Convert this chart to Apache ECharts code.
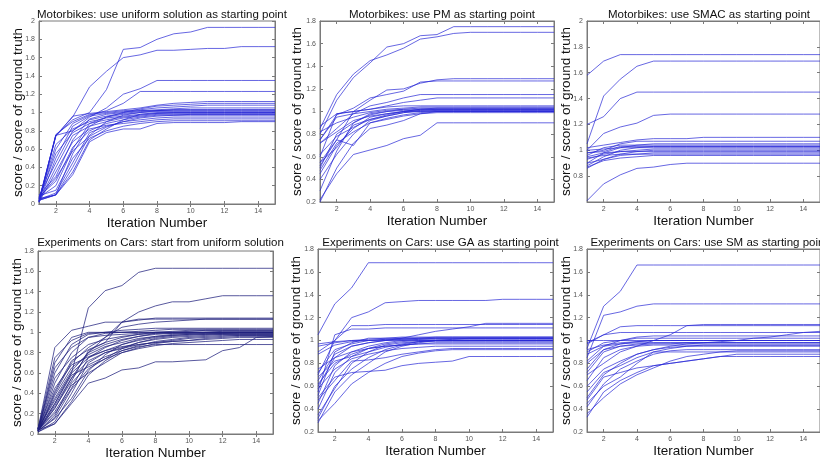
<!DOCTYPE html>
<html>
<head>
<meta charset="utf-8">
<script src="https://cdn.jsdelivr.net/npm/echarts@6/dist/echarts.min.js"></script>
<style>
html,body{margin:0;padding:0;background:#fff;}
#chart{width:820px;height:461px;}
</style>
</head>
<body>
<div id="chart"></div>
<script>
// ---------- DATA ----------
const iterations = [1,2,3,4,5,6,7,8,9,10,11,12,13,14,15];
const xTickValues = [2,4,6,8,10,12,14];
const yTicks0to2 = [0,0.2,0.4,0.6,0.8,1,1.2,1.4,1.6,1.8,2];
const yTicks02to18 = [0.2,0.4,0.6,0.8,1,1.2,1.4,1.6,1.8];
const yTicks08to2 = [0.8,1,1.2,1.4,1.6,1.8,2];
const yTicks0to18 = [0,0.2,0.4,0.6,0.8,1,1.2,1.4,1.6,1.8];

const titles = [
  "Motorbikes: use uniform solution as starting point",
  "Motorbikes: use PM as starting point",
  "Motorbikes: use SMAC as starting point",
  "Experiments on Cars: start from uniform solution",
  "Experiments on Cars: use GA as starting point",
  "Experiments on Cars: use SM as starting point"
];
const xAxisName = "Iteration Number";
const yAxisName = "score / score of ground truth";

const motoUniform = [
  [0.03,0.75,0.92,1.00,1.25,1.69,1.71,1.80,1.86,1.88,1.93,1.93,1.93,1.93,1.93],
  [0.05,0.75,0.95,1.28,1.45,1.60,1.63,1.68,1.68,1.69,1.70,1.70,1.72,1.72,1.72],
  [0.08,0.45,0.80,0.95,1.05,1.20,1.26,1.35,1.35,1.35,1.35,1.35,1.35,1.35,1.35],
  [0.04,0.60,0.88,0.97,1.02,1.10,1.23,1.23,1.23,1.23,1.23,1.23,1.23,1.23,1.23],
  [0.02,0.74,0.96,0.99,1.01,1.03,1.05,1.08,1.10,1.11,1.12,1.12,1.12,1.12,1.12],
  [0.06,0.10,0.55,0.85,0.95,1.00,1.04,1.07,1.08,1.09,1.10,1.10,1.10,1.10,1.10],
  [0.03,0.76,0.90,0.98,1.00,1.02,1.03,1.05,1.06,1.07,1.08,1.08,1.08,1.08,1.08],
  [0.10,0.30,0.70,0.93,0.98,1.00,1.02,1.03,1.04,1.05,1.05,1.05,1.05,1.05,1.05],
  [0.05,0.10,0.40,0.75,0.90,0.97,1.00,1.02,1.03,1.03,1.03,1.03,1.03,1.03,1.03],
  [0.02,0.50,0.85,0.96,0.99,1.01,1.02,1.02,1.02,1.02,1.02,1.02,1.02,1.02,1.02],
  [0.07,0.20,0.60,0.88,0.95,0.98,1.00,1.01,1.01,1.01,1.01,1.01,1.01,1.01,1.01],
  [0.04,0.10,0.35,0.70,0.82,0.92,0.98,1.00,1.00,1.00,1.00,1.00,1.00,1.00,1.00],
  [0.06,0.65,0.82,0.90,0.94,0.96,0.98,0.99,0.99,0.99,0.99,0.99,0.99,0.99,0.99],
  [0.03,0.40,0.75,0.85,0.90,0.94,0.96,0.98,0.98,0.98,0.98,0.98,0.98,0.98,0.98],
  [0.08,0.25,0.62,0.80,0.88,0.92,0.95,0.97,0.97,0.97,0.97,0.97,0.97,0.97,0.97],
  [0.05,0.12,0.45,0.78,0.85,0.90,0.92,0.94,0.95,0.95,0.95,0.95,0.95,0.95,0.95],
  [0.02,0.35,0.68,0.82,0.86,0.88,0.90,0.92,0.93,0.93,0.93,0.93,0.93,0.93,0.93],
  [0.09,0.15,0.50,0.72,0.80,0.85,0.88,0.90,0.91,0.91,0.91,0.91,0.91,0.91,0.91],
  [0.04,0.10,0.32,0.68,0.78,0.82,0.82,0.88,0.89,0.89,0.89,0.89,0.90,0.90,0.90],
  [0.06,0.55,0.78,0.88,0.92,0.95,0.97,0.99,1.00,1.00,1.00,1.00,1.00,1.00,1.00],
  [0.03,0.75,0.80,0.92,0.96,0.99,1.01,1.02,1.03,1.03,1.03,1.03,1.03,1.03,1.03],
  [0.07,0.28,0.58,0.74,0.84,0.90,0.94,0.96,0.97,0.98,0.98,0.98,0.98,0.98,0.98]
];

const motoPM = [
  [0.85,1.15,1.33,1.45,1.50,1.56,1.64,1.66,1.69,1.70,1.70,1.70,1.70,1.70,1.70],
  [0.80,1.10,1.30,1.43,1.57,1.60,1.67,1.68,1.75,1.75,1.75,1.75,1.75,1.75,1.75],
  [0.55,0.75,1.00,1.10,1.19,1.20,1.25,1.28,1.29,1.29,1.29,1.29,1.29,1.29,1.29],
  [0.75,0.97,1.03,1.12,1.15,1.18,1.26,1.27,1.27,1.27,1.27,1.27,1.27,1.27,1.27],
  [0.72,0.85,0.98,1.05,1.08,1.12,1.15,1.15,1.15,1.15,1.15,1.15,1.15,1.15,1.15],
  [0.60,0.98,1.00,1.02,1.05,1.08,1.10,1.12,1.12,1.12,1.12,1.12,1.12,1.12,1.12],
  [0.22,0.45,0.62,0.66,0.70,0.76,0.79,0.90,0.90,0.90,0.90,0.90,0.90,0.90,0.90],
  [0.20,0.50,0.72,0.85,0.88,0.92,0.98,1.00,1.00,1.00,1.00,1.00,1.00,1.00,1.00],
  [0.87,0.98,1.00,1.02,1.04,1.05,1.05,1.05,1.05,1.05,1.05,1.05,1.05,1.05,1.05],
  [0.75,0.95,0.98,1.00,1.02,1.03,1.04,1.04,1.04,1.04,1.04,1.04,1.04,1.04,1.04],
  [0.50,0.80,0.90,0.97,1.00,1.02,1.03,1.03,1.03,1.03,1.03,1.03,1.03,1.03,1.03],
  [0.45,0.70,0.85,0.95,0.98,1.00,1.02,1.02,1.02,1.02,1.02,1.02,1.02,1.02,1.02],
  [0.55,0.68,0.88,0.93,0.96,0.99,1.00,1.01,1.01,1.01,1.01,1.01,1.01,1.01,1.01],
  [0.30,0.65,0.90,0.98,1.00,1.01,1.01,1.01,1.01,1.01,1.01,1.01,1.01,1.01,1.01],
  [0.72,0.82,0.92,0.96,0.98,1.00,1.00,1.00,1.00,1.00,1.00,1.00,1.00,1.00,1.00],
  [0.52,0.75,0.70,0.90,0.94,0.97,0.99,1.00,1.00,1.00,1.00,1.00,1.00,1.00,1.00],
  [0.62,0.78,0.86,0.93,0.97,1.00,1.02,1.03,1.03,1.03,1.03,1.03,1.03,1.03,1.03],
  [0.48,0.72,0.82,0.90,0.93,0.96,0.98,0.99,0.99,0.99,0.99,0.99,0.99,0.99,0.99],
  [0.82,0.90,0.95,0.99,1.01,1.02,1.02,1.02,1.02,1.02,1.02,1.02,1.02,1.02,1.02],
  [0.40,0.62,0.80,0.92,0.96,0.99,1.01,1.02,1.02,1.02,1.02,1.02,1.02,1.02,1.02]
];

const motoSMAC = [
  [1.58,1.69,1.74,1.74,1.74,1.74,1.74,1.74,1.74,1.74,1.74,1.74,1.74,1.74,1.74],
  [1.05,1.42,1.55,1.65,1.69,1.69,1.69,1.69,1.69,1.69,1.69,1.69,1.69,1.69,1.69],
  [1.20,1.26,1.40,1.45,1.45,1.45,1.45,1.45,1.45,1.45,1.45,1.45,1.45,1.45,1.45],
  [1.00,1.13,1.18,1.21,1.27,1.28,1.28,1.28,1.28,1.28,1.28,1.28,1.28,1.28,1.28],
  [0.61,0.74,0.81,0.86,0.87,0.89,0.90,0.90,0.90,0.90,0.90,0.90,0.90,0.90,0.90],
  [1.02,1.04,1.06,1.08,1.09,1.09,1.09,1.10,1.10,1.10,1.10,1.10,1.10,1.10,1.10],
  [0.98,1.00,1.05,1.07,1.07,1.07,1.07,1.07,1.07,1.07,1.07,1.07,1.07,1.07,1.07],
  [0.90,0.98,1.02,1.04,1.05,1.05,1.05,1.05,1.05,1.05,1.05,1.05,1.05,1.05,1.05],
  [0.96,1.02,1.04,1.04,1.04,1.04,1.04,1.04,1.04,1.04,1.04,1.04,1.04,1.04,1.04],
  [0.88,0.95,1.00,1.02,1.03,1.03,1.03,1.03,1.03,1.03,1.03,1.03,1.03,1.03,1.03],
  [1.00,1.01,1.02,1.02,1.02,1.02,1.02,1.02,1.02,1.02,1.02,1.02,1.02,1.02,1.02],
  [0.93,0.97,0.99,1.00,1.01,1.01,1.01,1.01,1.01,1.01,1.01,1.01,1.01,1.01,1.01],
  [0.86,0.93,0.97,0.99,1.00,1.00,1.00,1.00,1.00,1.00,1.00,1.00,1.00,1.00,1.00],
  [0.95,0.98,0.99,0.99,0.99,0.99,0.99,0.99,0.99,0.99,0.99,0.99,0.99,0.99,0.99],
  [0.90,0.93,0.96,0.97,0.98,0.98,0.98,0.98,0.98,0.98,0.98,0.98,0.98,0.98,0.98],
  [0.87,0.92,0.94,0.95,0.96,0.96,0.96,0.96,0.96,0.96,0.96,0.96,0.96,0.96,0.96],
  [0.98,0.99,1.03,1.03,1.03,1.03,1.03,1.03,1.03,1.03,1.03,1.03,1.03,1.03,1.03],
  [0.94,0.96,0.97,0.97,0.97,0.97,0.97,0.97,0.97,0.97,0.97,0.97,0.97,0.97,0.97]
];

const carsUniform = [
  [0.03,0.30,0.60,1.24,1.41,1.46,1.59,1.63,1.63,1.63,1.63,1.63,1.63,1.63,1.63],
  [0.04,0.25,0.55,0.80,0.95,1.10,1.20,1.26,1.30,1.30,1.33,1.36,1.36,1.36,1.36],
  [0.05,0.85,1.02,1.06,1.10,1.10,1.12,1.14,1.14,1.14,1.14,1.14,1.14,1.14,1.14],
  [0.03,0.70,0.95,1.00,1.00,1.00,1.00,1.00,1.00,1.00,1.00,1.00,1.00,1.00,1.00],
  [0.04,0.10,0.30,0.50,0.55,0.63,0.65,0.71,0.71,0.72,0.73,0.82,0.85,0.95,0.96],
  [0.02,0.40,0.70,0.85,0.95,1.05,1.08,1.10,1.11,1.12,1.13,1.13,1.13,1.13,1.13],
  [0.05,0.60,0.88,0.98,1.00,1.02,1.03,1.04,1.04,1.04,1.04,1.04,1.04,1.04,1.04],
  [0.03,0.50,0.80,0.95,0.99,1.00,1.01,1.02,1.03,1.03,1.03,1.03,1.03,1.03,1.03],
  [0.04,0.20,0.45,0.75,0.85,0.92,0.96,0.99,1.00,1.01,1.02,1.02,1.02,1.02,1.02],
  [0.03,0.15,0.35,0.62,0.78,0.88,0.93,0.96,0.98,0.99,1.00,1.01,1.01,1.01,1.01],
  [0.05,0.35,0.62,0.80,0.88,0.93,0.96,0.98,0.99,1.00,1.00,1.00,1.00,1.00,1.00],
  [0.04,0.55,0.75,0.88,0.93,0.96,0.98,0.99,0.99,0.99,0.99,0.99,0.99,0.99,0.99],
  [0.02,0.12,0.40,0.70,0.80,0.85,0.90,0.93,0.95,0.96,0.97,0.98,0.98,0.98,0.98],
  [0.03,0.28,0.55,0.72,0.80,0.84,0.88,0.90,0.92,0.94,0.95,0.96,0.97,0.97,0.97],
  [0.06,0.45,0.68,0.76,0.82,0.86,0.88,0.90,0.91,0.92,0.93,0.94,0.95,0.95,0.95],
  [0.03,0.18,0.50,0.68,0.76,0.82,0.86,0.88,0.88,0.88,0.88,0.88,0.88,0.88,0.88],
  [0.04,0.22,0.48,0.60,0.70,0.80,0.84,0.87,0.89,0.90,0.91,0.92,0.93,0.93,0.93],
  [0.05,0.65,0.85,0.95,0.97,0.98,0.99,1.00,1.00,1.00,1.00,1.00,1.00,1.00,1.00],
  [0.03,0.38,0.65,0.78,0.86,0.90,0.94,0.96,0.97,0.98,0.98,0.98,0.98,0.98,0.98],
  [0.02,0.10,0.32,0.58,0.72,0.82,0.87,0.91,0.93,0.95,0.96,0.97,0.97,0.97,0.97],
  [0.04,0.30,0.58,0.66,0.74,0.80,0.85,0.89,0.91,0.92,0.94,0.95,0.96,0.96,0.96],
  [0.05,0.75,0.92,0.99,1.00,1.00,1.00,1.00,1.00,1.00,1.00,1.00,1.00,1.00,1.00],
  [0.03,0.26,0.52,0.82,0.90,1.10,1.13,1.13,1.13,1.13,1.13,1.13,1.13,1.13,1.13],
  [0.04,0.42,0.72,0.83,0.90,0.95,0.98,1.00,1.01,1.02,1.02,1.02,1.02,1.02,1.02],
  [0.03,0.16,0.44,0.64,0.74,0.84,0.90,0.94,0.96,0.97,0.98,0.99,1.00,1.00,1.00],
  [0.05,0.33,0.60,0.75,0.82,0.88,0.92,0.95,0.97,0.98,0.99,0.99,0.99,0.99,0.99]
];

const carsGA = [
  [1.05,1.32,1.46,1.68,1.68,1.68,1.68,1.68,1.68,1.68,1.68,1.68,1.68,1.68,1.68],
  [0.90,1.00,1.20,1.25,1.33,1.34,1.35,1.35,1.35,1.35,1.35,1.36,1.36,1.36,1.36],
  [0.60,0.85,0.95,0.98,1.00,1.02,1.05,1.08,1.10,1.12,1.15,1.15,1.15,1.15,1.15],
  [0.70,1.00,1.13,1.13,1.14,1.14,1.14,1.14,1.14,1.14,1.14,1.14,1.14,1.14,1.14],
  [0.55,1.05,1.10,1.10,1.11,1.11,1.11,1.11,1.11,1.11,1.11,1.11,1.11,1.11,1.11],
  [0.97,0.99,1.00,1.00,1.00,1.00,1.00,1.00,1.00,1.00,1.00,1.00,1.00,1.00,1.00],
  [0.50,0.68,0.72,0.73,0.74,0.78,0.80,0.81,0.82,0.86,0.86,0.86,0.86,0.86,0.86],
  [0.28,0.55,0.70,0.80,0.90,0.95,0.98,1.00,1.01,1.02,1.02,1.02,1.02,1.02,1.02],
  [0.32,0.60,0.75,0.85,0.92,0.96,0.99,1.00,1.00,1.00,1.00,1.00,1.00,1.00,1.00],
  [0.35,0.58,0.80,0.90,0.96,0.98,0.99,0.99,0.99,0.99,0.99,0.99,0.99,0.99,0.99],
  [0.40,0.72,0.86,0.93,0.97,0.99,1.00,1.00,1.00,1.00,1.00,1.00,1.00,1.00,1.00],
  [0.45,0.78,0.90,0.95,0.98,1.00,1.01,1.02,1.02,1.02,1.02,1.02,1.02,1.02,1.02],
  [0.62,0.80,0.88,0.93,0.95,0.96,0.97,0.97,0.97,0.97,0.97,0.97,0.97,0.97,0.97],
  [0.65,0.88,0.95,0.98,1.00,1.01,1.02,1.03,1.03,1.03,1.03,1.03,1.03,1.03,1.03],
  [0.72,0.92,0.97,1.00,1.01,1.02,1.02,1.02,1.02,1.02,1.02,1.02,1.02,1.02,1.02],
  [0.75,0.85,0.90,0.93,0.95,0.96,0.97,0.98,0.98,0.98,0.98,0.98,0.98,0.98,0.98],
  [0.88,0.96,0.99,1.00,1.01,1.01,1.01,1.01,1.01,1.01,1.01,1.01,1.01,1.01,1.01],
  [0.95,0.98,1.00,1.01,1.02,1.03,1.03,1.03,1.03,1.03,1.03,1.03,1.03,1.03,1.03],
  [0.48,0.65,0.82,0.83,0.85,0.88,0.90,0.92,0.93,0.93,0.93,0.93,0.93,0.93,0.93],
  [0.58,0.75,0.84,0.88,0.91,0.93,0.94,0.95,0.95,0.95,0.95,0.95,0.95,0.95,0.95],
  [0.30,0.45,0.62,0.72,0.80,0.86,0.89,0.91,0.92,0.92,0.92,0.92,0.92,0.92,0.92],
  [0.68,0.82,0.86,0.90,0.94,0.97,0.99,1.00,1.00,1.00,1.00,1.00,1.00,1.00,1.00],
  [0.52,0.90,0.98,1.02,1.02,1.02,1.02,1.02,1.02,1.02,1.02,1.02,1.02,1.02,1.02]
];

const carsSM = [
  [0.93,1.30,1.43,1.66,1.66,1.66,1.66,1.66,1.66,1.66,1.66,1.66,1.66,1.66,1.66],
  [0.85,1.22,1.25,1.30,1.32,1.32,1.32,1.32,1.32,1.32,1.32,1.32,1.32,1.32,1.32],
  [0.97,1.05,1.12,1.13,1.13,1.13,1.13,1.13,1.13,1.13,1.13,1.13,1.13,1.13,1.13],
  [0.70,0.80,0.90,0.95,1.00,1.05,1.13,1.14,1.14,1.14,1.14,1.14,1.14,1.14,1.14],
  [0.80,0.92,0.95,0.96,0.97,0.97,0.98,0.98,0.99,1.00,1.02,1.03,1.05,1.07,1.08],
  [0.45,0.60,0.68,0.80,0.90,0.90,0.90,0.90,0.90,0.90,0.90,0.90,0.90,0.90,0.90],
  [0.33,0.55,0.65,0.72,0.78,0.80,0.82,0.84,0.86,0.86,0.86,0.86,0.86,0.86,0.86],
  [0.36,0.50,0.62,0.70,0.76,0.82,0.86,0.88,0.90,0.91,0.91,0.91,0.91,0.91,0.91],
  [0.48,0.68,0.72,0.76,0.78,0.80,0.82,0.84,0.86,0.88,0.88,0.88,0.88,0.88,0.88],
  [0.55,0.72,0.78,0.85,0.90,0.93,0.95,0.96,0.96,0.96,0.96,0.96,0.96,0.96,0.96],
  [0.60,0.75,0.82,0.88,0.92,0.95,0.97,0.98,0.98,0.98,0.98,0.98,0.98,0.98,0.98],
  [0.72,0.90,0.95,0.97,0.98,0.98,0.98,0.98,0.98,0.98,0.98,0.98,0.98,0.98,0.98],
  [1.00,1.00,1.00,1.00,1.00,1.00,1.00,1.00,1.00,1.00,1.00,1.00,1.00,1.00,1.00],
  [0.90,0.98,1.00,1.02,1.02,1.02,1.02,1.02,1.02,1.02,1.02,1.02,1.02,1.02,1.02],
  [0.75,0.92,0.97,0.99,1.00,1.00,1.00,1.00,1.00,1.00,1.00,1.00,1.00,1.00,1.00],
  [0.65,0.85,0.92,0.95,0.96,0.96,0.96,0.96,0.96,0.96,0.96,0.96,0.96,0.96,0.96],
  [0.98,1.05,1.07,1.07,1.07,1.07,1.07,1.07,1.07,1.07,1.07,1.07,1.07,1.07,1.07],
  [0.88,0.95,0.97,0.98,0.98,0.98,0.98,0.98,0.98,0.98,0.98,0.98,0.98,0.98,0.98],
  [0.50,0.70,0.80,0.88,0.92,0.94,0.95,0.95,0.95,0.95,0.95,0.95,0.95,0.95,0.95],
  [0.82,0.95,1.00,1.03,1.04,1.04,1.04,1.04,1.04,1.04,1.04,1.04,1.04,1.04,1.04],
  [0.42,0.62,0.75,0.82,0.88,0.91,0.92,0.92,0.92,0.92,0.92,0.92,0.92,0.92,0.92],
  [0.92,0.96,0.98,0.99,1.00,1.00,1.00,1.00,1.00,1.00,1.00,1.00,1.00,1.00,1.00]
];

// ---------- LAYOUT ----------
const panels = [
  {data: motoUniform, yMin: 0,   yMax: 2,   yTicks: yTicks0to2,   grid:{left:39, top:21, width:236, height:183}, titleTop:4,   yGap:13.5, color:'#2727d6', op:0.7},
  {data: motoPM,      yMin: 0.2, yMax: 1.8, yTicks: yTicks02to18, grid:{left:320,top:21, width:234, height:181}, titleTop:4,   yGap:16,   color:'#2727d6', op:0.7},
  {data: motoSMAC,    yMin: 0.6, yMax: 2,   yTicks: yTicks08to2,  grid:{left:587,top:21, width:234, height:181}, titleTop:4,   yGap:13.5, color:'#2727d6', op:0.7},
  {data: carsUniform, yMin: 0,   yMax: 1.8, yTicks: yTicks0to18,  grid:{left:38, top:251,width:235, height:183}, titleTop:232, yGap:13.5, color:'#22227e', op:0.75},
  {data: carsGA,      yMin: 0.2, yMax: 1.8, yTicks: yTicks02to18, grid:{left:318,top:249,width:235, height:183}, titleTop:232, yGap:14.5, color:'#2727d6', op:0.7},
  {data: carsSM,      yMin: 0.2, yMax: 1.8, yTicks: yTicks02to18, grid:{left:587,top:249,width:234, height:183}, titleTop:232, yGap:13.5, color:'#2727d6', op:0.7}
];

const FONT = '"Liberation Sans", Arial, Helvetica, sans-serif';
const boxColor = '#7a7a7a';
const labelColor = '#555';

const option = {
  animation: false,
  backgroundColor: '#fff',
  title: [], grid: [], xAxis: [], yAxis: [], series: []
};

panels.forEach((p, i) => {
  const g = p.grid;
  option.grid.push({left: g.left, top: g.top, width: g.width, height: g.height, show: true, borderColor: boxColor, borderWidth: 1, backgroundColor: '#fff'});
  option.title.push({
    text: titles[i], left: g.left + g.width / 2, top: p.titleTop, textAlign: 'center',
    textStyle: {fontFamily: FONT, fontSize: 11.5, fontWeight: 'normal', color: '#111'}
  });
  const xb = {
    type: 'value', gridIndex: i, min: 1, max: 15,
    axisLine: {show: true, lineStyle: {color: boxColor, width: 1}},
    splitLine: {show: false}
  };
  option.xAxis.push(Object.assign({}, xb, {
    position: 'bottom',
    name: xAxisName, nameLocation: 'middle', nameGap: 3,
    nameTextStyle: {fontFamily: FONT, fontSize: 13.5, color: '#111'},
    axisTick: {inside: true, length: 3, lineStyle: {color: boxColor}, customValues: xTickValues},
    axisLabel: {fontFamily: FONT, fontSize: 7, color: labelColor, margin: 4, customValues: xTickValues}
  }));
  option.xAxis.push(Object.assign({}, xb, {
    position: 'top',
    axisTick: {inside: true, length: 3, lineStyle: {color: boxColor}, customValues: xTickValues},
    axisLabel: {show: false}
  }));
  const yb = {
    type: 'value', gridIndex: i, min: p.yMin, max: p.yMax,
    axisLine: {show: true, lineStyle: {color: boxColor, width: 1}},
    splitLine: {show: false}
  };
  option.yAxis.push(Object.assign({}, yb, {
    position: 'left',
    name: yAxisName, nameLocation: 'middle', nameGap: p.yGap, nameMoveOverlap: false,
    nameTextStyle: {fontFamily: FONT, fontSize: 13.5, color: '#111'},
    axisTick: {inside: true, length: 3, lineStyle: {color: boxColor}, customValues: p.yTicks},
    axisLabel: {fontFamily: FONT, fontSize: 7, color: labelColor, margin: 4, customValues: p.yTicks,
      formatter: v => String(Math.round(v * 10) / 10)}
  }));
  option.yAxis.push(Object.assign({}, yb, {
    position: 'right',
    axisTick: {inside: true, length: 3, lineStyle: {color: boxColor}, customValues: p.yTicks},
    axisLabel: {show: false}
  }));
  p.data.forEach(line => {
    option.series.push({
      type: 'line', xAxisIndex: i * 2, yAxisIndex: i * 2,
      data: line.map((v, k) => [iterations[k], v]),
      showSymbol: false, symbol: 'none', silent: true,
      lineStyle: {width: 1, color: p.color, opacity: p.op},
      clip: true
    });
  });
});

const chart = echarts.init(document.getElementById('chart'), null, {renderer: 'canvas'});
chart.setOption(option);
</script>
</body>
</html>
